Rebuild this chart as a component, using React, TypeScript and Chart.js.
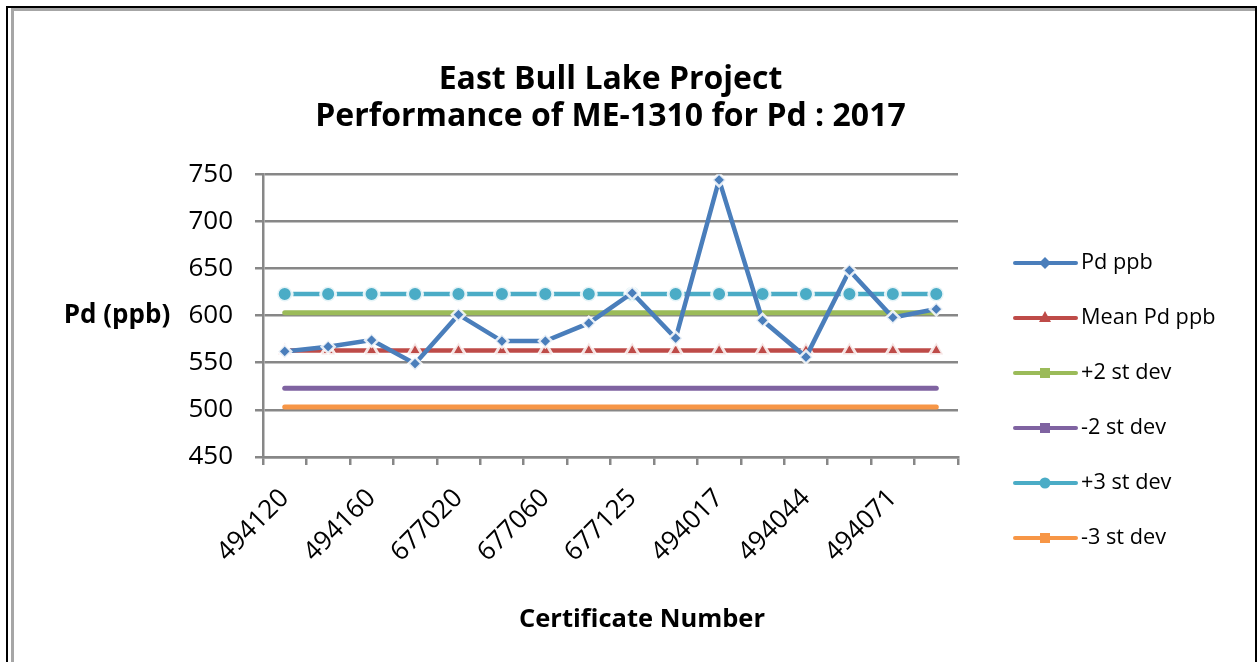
import React, { useEffect, useRef } from "react";
import { Chart, registerables } from "chart.js";

Chart.register(...registerables);

const chartTitle = ["East Bull Lake Project", "Performance of ME-1310 for Pd : 2017"];
const xAxisTitle = "Certificate Number";
const yAxisTitle = "Pd (ppb)";

const categories = [
  "494120", "494140", "494160", "494180", "677020", "677040", "677060", "677080",
  "677125", "677140", "494017", "494030", "494044", "494057", "494071", "494085",
];

const pdPpb = [562, 567, 574, 549, 601, 573, 573, 592, 624, 576, 744, 595, 556, 648, 598, 607];
const meanPdPpb = [563, 563, 563, 563, 563, 563, 563, 563, 563, 563, 563, 563, 563, 563, 563, 563];
const plus2StDev = [603, 603, 603, 603, 603, 603, 603, 603, 603, 603, 603, 603, 603, 603, 603, 603];
const minus2StDev = [523, 523, 523, 523, 523, 523, 523, 523, 523, 523, 523, 523, 523, 523, 523, 523];
const plus3StDev = [623, 623, 623, 623, 623, 623, 623, 623, 623, 623, 623, 623, 623, 623, 623, 623];
const minus3StDev = [503, 503, 503, 503, 503, 503, 503, 503, 503, 503, 503, 503, 503, 503, 503, 503];

const yMin = 450;
const yMax = 750;
const yStep = 50;

const FONT = "'Open Sans', Lato, sans-serif";
const GRID = "#878787";

type LegendDef = { label: string; color: string; marker: string };

const legendDefs: LegendDef[] = [
  { label: "Pd ppb", color: "#4A7EBB", marker: "diamond" },
  { label: "Mean Pd ppb", color: "#BE4B48", marker: "triangle" },
  { label: "+2 st dev", color: "#9BBB59", marker: "square" },
  { label: "-2 st dev", color: "#7F63A1", marker: "square" },
  { label: "+3 st dev", color: "#4BACC6", marker: "circle" },
  { label: "-3 st dev", color: "#F79646", marker: "square" },
];

function drawMarker(ctx: CanvasRenderingContext2D, kind: string, x: number, y: number, color: string) {
  ctx.fillStyle = color;
  ctx.beginPath();
  if (kind === "diamond") {
    const r = 6;
    ctx.moveTo(x, y - r);
    ctx.lineTo(x + r, y);
    ctx.lineTo(x, y + r);
    ctx.lineTo(x - r, y);
    ctx.closePath();
  } else if (kind === "triangle") {
    ctx.moveTo(x, y - 7);
    ctx.lineTo(x + 6, y + 4);
    ctx.lineTo(x - 6, y + 4);
    ctx.closePath();
  } else if (kind === "square") {
    ctx.rect(x - 5, y - 5, 10, 10);
  } else {
    ctx.arc(x, y, 5.5, 0, Math.PI * 2);
  }
  ctx.fill();
}

const extrasPlugin = {
  id: "extras",
  afterDraw(chart: any) {
    const ctx: CanvasRenderingContext2D = chart.ctx;
    const area = chart.chartArea;
    ctx.save();
    ctx.fillStyle = "#000";
    ctx.textAlign = "center";
    ctx.textBaseline = "middle";
    ctx.font = `bold 26px ${FONT}`;
    ctx.fillText(yAxisTitle, 117, (area.top + area.bottom) / 2);
    ctx.font = `bold 25.5px ${FONT}`;
    ctx.fillText(xAxisTitle, 642, 620);

    legendDefs.forEach((d, i) => {
      const y = 263 + i * 55;
      ctx.strokeStyle = d.color;
      ctx.lineWidth = 4;
      ctx.lineCap = "round";
      ctx.beginPath();
      ctx.moveTo(1015, y);
      ctx.lineTo(1076, y);
      ctx.stroke();
      drawMarker(ctx, d.marker, 1045, y, d.color);
      ctx.fillStyle = "#000";
      ctx.font = `21.7px ${FONT}`;
      ctx.textAlign = "left";
      ctx.fillText(d.label, 1081, y);
    });
    ctx.restore();
  },
};

export default function App() {
  const canvasRef = useRef<HTMLCanvasElement | null>(null);

  useEffect(() => {
    const canvas = canvasRef.current;
    if (!canvas) return;
    const halo = "rgba(255,255,255,0.85)";
    const chart = new Chart(canvas, {
      type: "line",
      data: {
        labels: categories,
        datasets: [
          {
            label: legendDefs[0].label,
            data: pdPpb,
            borderColor: legendDefs[0].color,
            backgroundColor: legendDefs[0].color,
            borderWidth: 4.5,
            pointStyle: "rectRot",
            pointRadius: 6.5,
            pointBorderColor: halo,
            pointBorderWidth: 2.5,
            tension: 0,
          },
          {
            label: legendDefs[1].label,
            data: meanPdPpb,
            borderColor: legendDefs[1].color,
            backgroundColor: legendDefs[1].color,
            borderWidth: 4.5,
            pointStyle: "triangle",
            pointRadius: 8,
            pointBorderColor: halo,
            pointBorderWidth: 3,
          },
          {
            label: legendDefs[2].label,
            data: plus2StDev,
            borderColor: legendDefs[2].color,
            backgroundColor: legendDefs[2].color,
            borderWidth: 5,
            borderCapStyle: "round",
            pointRadius: 0,
          },
          {
            label: legendDefs[3].label,
            data: minus2StDev,
            borderColor: legendDefs[3].color,
            backgroundColor: legendDefs[3].color,
            borderWidth: 5,
            borderCapStyle: "round",
            pointRadius: 0,
          },
          {
            label: legendDefs[4].label,
            data: plus3StDev,
            borderColor: legendDefs[4].color,
            backgroundColor: legendDefs[4].color,
            borderWidth: 4.5,
            pointStyle: "circle",
            pointRadius: 7.5,
            pointBorderColor: halo,
            pointBorderWidth: 3,
          },
          {
            label: legendDefs[5].label,
            data: minus3StDev,
            borderColor: legendDefs[5].color,
            backgroundColor: legendDefs[5].color,
            borderWidth: 5,
            borderCapStyle: "round",
            pointRadius: 0,
          },
        ],
      },
      options: {
        responsive: false,
        animation: false,
        devicePixelRatio: 1,
        layout: { padding: { left: 20, right: 299, top: 0, bottom: 0 } },
        plugins: {
          legend: { display: false },
          tooltip: { enabled: false },
          title: {
            display: true,
            text: chartTitle,
            color: "#000",
            font: { family: FONT, size: 32, weight: "bold", lineHeight: 1.16 },
            padding: { top: 61, bottom: 39 },
            fullSize: false,
          },
        },
        scales: {
          x: {
            type: "category",
            offset: true,
            grid: {
              offset: true,
              drawOnChartArea: false,
              drawTicks: true,
              tickLength: 8,
              color: GRID,
              lineWidth: 2.5,
            },
            border: { display: true, color: GRID, width: 2.5 },
            ticks: {
              autoSkip: false,
              maxRotation: 45,
              minRotation: 45,
              color: "#000",
              padding: 18,
              font: { family: FONT, size: 26 },
              callback: (_v: any, i: number) => (i % 2 === 0 ? categories[i] : ""),
            },
            afterFit: (scale: any) => {
              scale.height = 205;
            },
          },
          y: {
            min: yMin,
            max: yMax,
            ticks: {
              stepSize: yStep,
              color: "#000",
              padding: 22,
              font: { family: FONT, size: 26 },
            },
            grid: { color: GRID, lineWidth: 2.5, tickLength: 8, drawTicks: true },
            border: { display: true, color: GRID, width: 2.5 },
            afterFit: (scale: any) => {
              scale.width = 243;
            },
          },
        },
      } as any,
      plugins: [extrasPlugin],
    });
    return () => chart.destroy();
  }, []);

  return (
    <>
      <canvas
        ref={canvasRef}
        width={1257}
        height={662}
        style={{ position: "fixed", left: 0, top: 0, width: 1257, height: 662, background: "#fff" }}
      />
      <div
        style={{
          position: "fixed",
          left: 6,
          top: 6,
          width: 1251,
          height: 720,
          border: "2px solid #000",
          boxSizing: "border-box",
          pointerEvents: "none",
        }}
      >
        <div
          style={{
            position: "absolute",
            left: 3,
            top: 0,
            right: 0,
            bottom: 0,
            borderLeft: "3px solid #a6a6a6",
            borderTop: "3px solid #a6a6a6",
          }}
        />
      </div>
    </>
  );
}
